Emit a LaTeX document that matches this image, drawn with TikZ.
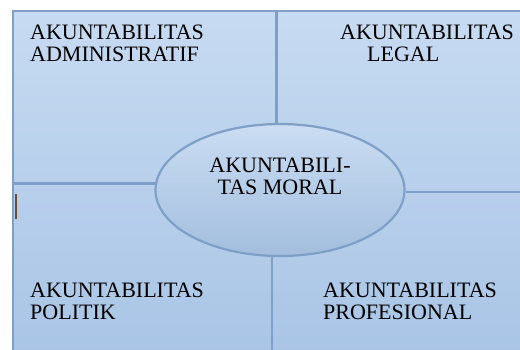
\documentclass[tikz,border=0pt]{standalone}
\usepackage{fontspec}
\setmainfont{Liberation Serif}
\usetikzlibrary{shapes.geometric}
\definecolor{paneltop}{HTML}{C7DBF2}
\definecolor{panelbot}{HTML}{A8C4E5}
\definecolor{panelline}{HTML}{7F9FC7}
\definecolor{cursorbrown}{HTML}{6E4B2A}
\tikzset{
  lbl/.style={inner sep=0pt, align=left, text=black,
    font=\fontsize{22}{22}\selectfont},
  sep/.style={draw=panelline, line width=2.2pt}
}

\begin{document}
\begin{tikzpicture}[x=1pt, y=-1pt]
  \useasboundingbox (0,0) rectangle (520,349);
  \clip (0,0) rectangle (520,349);
  \coordinate (tl) at (13,11);
  \coordinate (br) at (535,365);
  \shade[top color=paneltop, bottom color=panelbot] (tl) rectangle (br);
  \draw[sep, line width=2.6pt] (tl) rectangle (br);

  \node[ellipse, draw=panelline, line width=2.2pt, top color=paneltop!95!white,
    bottom color=panelbot!97!black, minimum width=249pt, minimum height=132pt]
    (moral) at (280,190) {};
  \node[lbl, align=center] (moraltxt) at (280,176) {AKUNTABILI-\\TAS MORAL};

  \draw[sep] (moral.93) -- (moral.93 |- tl);
  \draw[sep] (moral.177) -- (moral.177 -| tl);
  \draw[sep] (moral.-1) -- (moral.-1 -| br);
  \draw[sep] (moral.263) -- (moral.263 |- br);

  \node[lbl, anchor=north west] (admin) at (30,25) {AKUNTABILITAS\\ADMINISTRATIF};
  \node[lbl, anchor=north west] (legal) at (340,25) {AKUNTABILITAS\\\hspace*{27pt}LEGAL};
  \node[lbl, anchor=north west] (politik) at (30,283) {AKUNTABILITAS\\POLITIK};
  \node[lbl, anchor=north west] (profesi) at (323,283) {AKUNTABILITAS\\PROFESIONAL};

  \draw[cursorbrown, line width=2pt] (16,194) -- (16,219);
\end{tikzpicture}
\end{document}
